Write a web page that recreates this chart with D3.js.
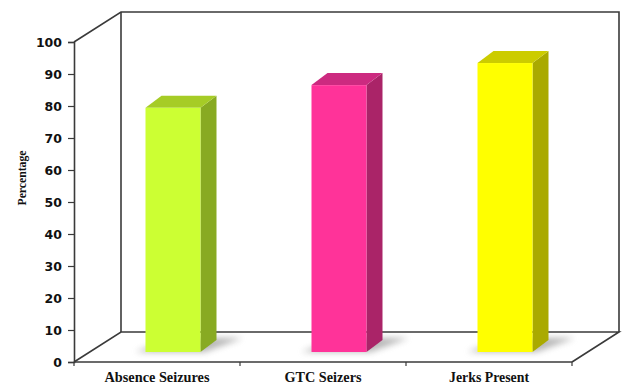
<!DOCTYPE html>
<html>
<head>
<meta charset="utf-8">
<script src="https://cdn.jsdelivr.net/npm/d3@7/dist/d3.min.js"></script>
<style>
  html, body { margin: 0; padding: 0; background: #fff; }
  svg { display: block; }
</style>
</head>
<body>
<svg id="chart" width="622" height="385"></svg>
<script>
// Seizure characteristics, percentage of patients
const categories = ["Absence Seizures", "GTC Seizers", "Jerks Present"];
const values = [76.3, 83.4, 90.3];
const yTicks = [0, 10, 20, 30, 40, 50, 60, 70, 80, 90, 100];
const frontColors = ["#ccff33", "#ff3399", "#ffff00"];
const sideColors = ["#88aa22", "#aa2468", "#aaaa00"];
const topColors = ["#a6cc26", "#cc2a80", "#cccc00"];
const labelWidths = [105, 77, 80];

const svg = d3.select("#chart");

// Front plane of the 3D box
const plotLeft = 74, plotRight = 572, plotBottom = 362, plotTop = 42;
// Depth of the box (floor/back wall offset)
const dX = 47, dY = -30;
// Bar placement inside the box and bar depth
const barOffX = 16, barOffY = -10, barDX = 16, barDY = -12, barW = 55;

const y = d3.scaleLinear().domain([0, 100]).range([plotBottom, plotTop]);
const x = d3.scalePoint().domain(categories).range([plotLeft, plotRight]).padding(0.5);

const defs = svg.append("defs");
defs.append("filter").attr("id", "soft")
  .attr("x", "-50%").attr("y", "-50%").attr("width", "200%").attr("height", "200%")
  .append("feGaussianBlur").attr("stdDeviation", 3);

const lineColor = "#3a3a3a";
const frame = svg.append("g").attr("stroke", lineColor).attr("stroke-width", 1.6).attr("fill", "none");

// Back wall and side wall
frame.append("path").attr("d", d3.line()([
  [plotLeft, y(100)], [plotLeft + dX, y(100) + dY], [plotRight + dX, y(100) + dY], [plotRight + dX, plotBottom + dY]
]));
frame.append("line")
  .attr("x1", plotLeft + dX).attr("y1", y(100) + dY)
  .attr("x2", plotLeft + dX).attr("y2", plotBottom + dY);
// Floor
frame.append("path").attr("d", d3.line()([
  [plotLeft, plotBottom], [plotLeft + dX, plotBottom + dY], [plotRight + dX, plotBottom + dY], [plotRight, plotBottom]
]));

// Vertical axis with ticks
const yAxis = svg.append("g").attr("transform", `translate(${plotLeft},0)`)
  .call(d3.axisLeft(y).tickValues(yTicks).tickSize(6).tickPadding(6));
yAxis.select(".domain").attr("stroke", lineColor).attr("stroke-width", 1.6);
yAxis.selectAll(".tick line").attr("stroke", lineColor).attr("stroke-width", 1.2);
yAxis.selectAll(".tick text")
  .attr("font-family", "DejaVu Sans, sans-serif")
  .attr("font-weight", "bold")
  .attr("font-size", 12.5)
  .attr("fill", "#111");

// Horizontal axis: front floor edge with ticks between categories
const bounds = d3.range(categories.length + 1).map(i => plotLeft + i * x.step());
svg.append("line")
  .attr("x1", plotLeft).attr("x2", plotRight).attr("y1", plotBottom).attr("y2", plotBottom)
  .attr("stroke", lineColor).attr("stroke-width", 1.6);
svg.append("g").selectAll("line").data(bounds).join("line")
  .attr("x1", d => d).attr("x2", d => d)
  .attr("y1", plotBottom).attr("y2", plotBottom + 4)
  .attr("stroke", lineColor).attr("stroke-width", 1.2);

// Category labels
svg.append("g").selectAll("text").data(categories).join("text")
  .attr("x", d => x(d))
  .attr("y", 382)
  .attr("text-anchor", "middle")
  .attr("font-family", "Liberation Serif, serif")
  .attr("font-weight", "bold")
  .attr("font-size", 14)
  .attr("fill", "#111")
  .attr("textLength", (d, i) => labelWidths[i])
  .attr("lengthAdjust", "spacingAndGlyphs")
  .text(d => d);

// Axis title
svg.append("text")
  .attr("transform", `translate(26,178) rotate(-90)`)
  .attr("text-anchor", "middle")
  .attr("font-family", "Liberation Serif, serif")
  .attr("font-weight", "bold")
  .attr("font-size", 12)
  .attr("fill", "#111")
  .attr("textLength", 55)
  .attr("lengthAdjust", "spacingAndGlyphs")
  .text("Percentage");

// Bars
const bars = svg.append("g").selectAll("g").data(values).join("g");

bars.each(function (v, i) {
  const g = d3.select(this);
  const x0 = x(categories[i]) - barW / 2 + barOffX;
  const x1 = x0 + barW;
  const yb = y(0) + barOffY;
  const yt = y(v) + barOffY;

  // Soft floor shadow
  g.append("path")
    .attr("d", d3.line()([
      [x0 - 10, yb], [x1 + 4, yb], [x1 + barDX + 26, yb + barDY - 2],
      [x0 + barDX + 12, yb + barDY - 2]
    ]) + "Z")
    .attr("fill", "#7a7a7a").attr("opacity", 0.55)
    .attr("filter", "url(#soft)");

  // Right side face
  g.append("path")
    .attr("d", d3.line()([[x1, yb], [x1, yt], [x1 + barDX, yt + barDY], [x1 + barDX, yb + barDY]]) + "Z")
    .attr("fill", sideColors[i]);
  // Top face
  g.append("path")
    .attr("d", d3.line()([[x0, yt], [x1, yt], [x1 + barDX, yt + barDY], [x0 + barDX, yt + barDY]]) + "Z")
    .attr("fill", topColors[i]);
  // Front face
  g.append("rect")
    .attr("x", x0).attr("y", yt)
    .attr("width", barW).attr("height", yb - yt)
    .attr("fill", frontColors[i]);
});
</script>
</body>
</html>
